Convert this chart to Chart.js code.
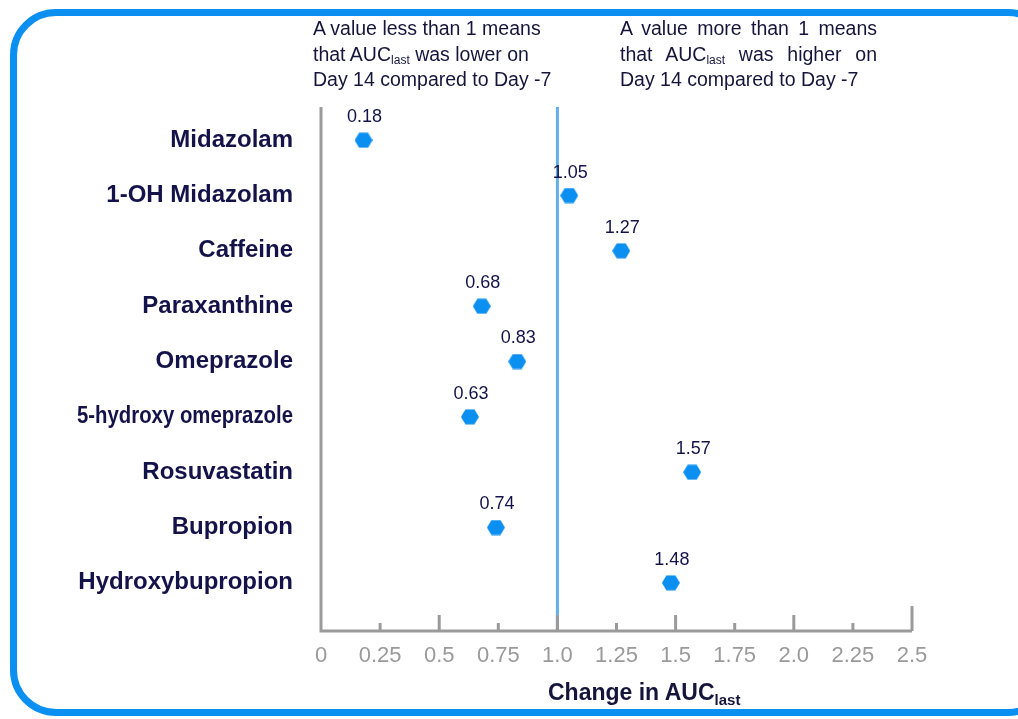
<!DOCTYPE html>
<html>
<head>
<meta charset="utf-8">
<script src="https://cdn.jsdelivr.net/npm/chart.js@4.4.1/dist/chart.umd.min.js"></script>
<style>
  html, body { margin: 0; padding: 0; background: #fff; }
  body { width: 1018px; height: 719px; overflow: hidden; position: relative; font-family: "Liberation Sans", Arial, sans-serif; }
  .frame {
    position: absolute; left: 10px; top: 9px; width: 1030px; height: 693px;
    border: 7px solid #0b8ff0; border-radius: 46px;
  }
  #wrap { position: absolute; left: 0; top: 0; width: 1018px; height: 719px; }
  .note { position: absolute; color: #15153c; font-size: 19.5px; line-height: 25.5px; white-space: nowrap; }
  .note sub { font-size: 12px; vertical-align: -3px; line-height: 0; }
  .note span { display: block; }
  #noteLeft { left: 313px; top: 16px; }
  #noteRight { left: 620px; top: 16px; width: 257px; }
  #noteRight span.j { text-align: justify; text-align-last: justify; white-space: normal; }
  #xTitle { position: absolute; left: 548px; top: 679px; font-weight: bold; font-size: 23px; color: #15153c; }
  #xTitle sub { font-size: 15px; vertical-align: -5px; line-height: 0; }
</style>
</head>
<body>
<div class="frame"></div>
<div id="wrap"><canvas id="chart" width="1018" height="719"></canvas></div>
<div class="note" id="noteLeft"><span>A value less than 1 means</span><span>that AUC<sub>last</sub> was lower on</span><span>Day 14 compared to Day -7</span></div>
<div class="note" id="noteRight"><span class="j">A value more than 1 means</span><span class="j">that AUC<sub>last</sub> was higher on</span><span>Day 14 compared to Day -7</span></div>
<div id="xTitle">Change in AUC<sub>last</sub></div>
<script>
// =========================
// DATA
// =========================
const categories = [
  "Midazolam", "1-OH Midazolam", "Caffeine", "Paraxanthine", "Omeprazole",
  "5-hydroxy omeprazole", "Rosuvastatin", "Bupropion", "Hydroxybupropion"
];
const ratios = [0.18, 1.05, 1.27, 0.68, 0.83, 0.63, 1.57, 0.74, 1.48];
const xTickLabels = ["0", "0.25", "0.5", "0.75", "1.0", "1.25", "1.5", "1.75", "2.0", "2.25", "2.5"];
const refValue = 1;

const NAVY = "#13134a";
const GREY = "#9a9a9a";
const BLUE = "#0b8ff0";
const FONT = "'Liberation Sans', Arial, sans-serif";

// hexagon marker
function hexagon() {
  const c = document.createElement("canvas");
  c.width = 18; c.height = 16;
  const g = c.getContext("2d");
  g.fillStyle = BLUE;
  g.beginPath();
  g.moveTo(0, 8); g.lineTo(4.5, 0.5); g.lineTo(13.5, 0.5);
  g.lineTo(18, 8); g.lineTo(13.5, 15.5); g.lineTo(4.5, 15.5);
  g.closePath();
  g.fill();
  return c;
}

// axes, ticks pointing up, reference line, category and value labels
const decorPlugin = {
  id: "decor",
  beforeDatasetsDraw(chart) {
    const { ctx, chartArea: a, scales: { x, y } } = chart;
    ctx.save();
    // reference line at 1
    const rx = x.getPixelForValue(refValue);
    ctx.strokeStyle = "#64aee9";
    ctx.lineWidth = 3;
    ctx.beginPath(); ctx.moveTo(rx, a.top); ctx.lineTo(rx, a.bottom); ctx.stroke();
    // axes
    ctx.strokeStyle = GREY;
    ctx.lineWidth = 3;
    ctx.beginPath();
    ctx.moveTo(a.left, a.top);
    ctx.lineTo(a.left, a.bottom);
    ctx.lineTo(a.right, a.bottom);
    ctx.stroke();
    // ticks
    x.ticks.forEach((t, i) => {
      if (i === 0) return;
      let h = (i % 2 === 0) ? 16 : 8;
      if (i === x.ticks.length - 1) h = 25;
      const px = x.getPixelForValue(t.value);
      ctx.beginPath(); ctx.moveTo(px, a.bottom); ctx.lineTo(px, a.bottom - h); ctx.stroke();
    });
    // category labels (long one squeezed like the original)
    ctx.fillStyle = NAVY;
    ctx.font = "bold 24px " + FONT;
    ctx.textAlign = "right";
    ctx.textBaseline = "middle";
    categories.forEach((c, i) => {
      ctx.fillText(c, a.left - 28, y.getPixelForValue(i), 216);
    });
    ctx.restore();
  },
  afterDatasetsDraw(chart) {
    const { ctx } = chart;
    const meta = chart.getDatasetMeta(0);
    ctx.save();
    ctx.fillStyle = NAVY;
    ctx.font = "18px " + FONT;
    ctx.textAlign = "center";
    ctx.textBaseline = "bottom";
    meta.data.forEach((p, i) => {
      ctx.fillText(ratios[i].toFixed(2), p.x + 1, p.y - 14);
    });
    ctx.restore();
  }
};

new Chart(document.getElementById("chart").getContext("2d"), {
  type: "scatter",
  data: {
    datasets: [{
      data: ratios.map((v, i) => ({ x: v, y: i })),
      pointStyle: hexagon(),
      pointRadius: 8,
      pointHoverRadius: 8
    }]
  },
  options: {
    responsive: false,
    animation: false,
    events: [],
    layout: { padding: { top: 107, right: 106, left: 0, bottom: 0 } },
    plugins: { legend: { display: false }, tooltip: { enabled: false } },
    scales: {
      x: {
        type: "linear",
        min: 0,
        max: 2.5,
        grid: { display: false, drawTicks: false },
        border: { display: false },
        afterBuildTicks: s => { s.ticks = xTickLabels.map((l, i) => ({ value: i * 0.25 })); },
        afterFit: s => { s.height = 719 - 631; },
        ticks: {
          autoSkip: false,
          maxRotation: 0,
          padding: 12,
          color: GREY,
          font: { family: FONT, size: 22 },
          callback: (v, i) => xTickLabels[i]
        }
      },
      y: {
        type: "linear",
        reverse: true,
        min: -0.6,
        max: 8.87,
        grid: { display: false, drawTicks: false },
        border: { display: false },
        afterBuildTicks: s => { s.ticks = categories.map((c, i) => ({ value: i })); },
        afterFit: s => { s.width = 321; },
        ticks: { display: false }
      }
    }
  },
  plugins: [decorPlugin]
});
</script>
</body>
</html>
